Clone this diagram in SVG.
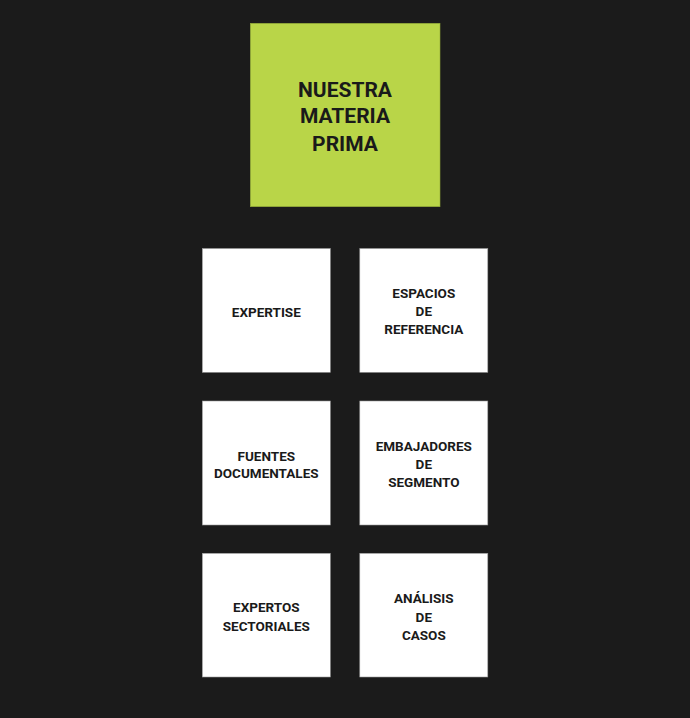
<svg xmlns="http://www.w3.org/2000/svg" width="690" height="718" viewBox="0 0 690 718">
<style>
.bg{fill:#1b1b1b}
.box{fill:#ffffff;stroke:#9a9a9a;stroke-width:0.6}
.main{fill:#b9d548;stroke:#8fa838;stroke-width:0.6}
text{font-family:"Roboto","Liberation Sans",sans-serif;font-weight:bold;fill:#1a1a1a;text-anchor:middle}
.t{font-size:13.5px}
.h{font-size:21px}
</style>
<rect class="bg" x="0" y="0" width="690" height="718"/>
<g id="main">
<rect class="main" x="250.3" y="23.3" width="189.7" height="183.4"/>
<text class="h" x="345" y="96.5">NUESTRA</text>
<text class="h" x="345" y="123">MATERIA</text>
<text class="h" x="345" y="150.5">PRIMA</text>
</g>
<g id="expertise">
<rect class="box" x="202.3" y="248.5" width="128" height="123.8"/>
<text class="t" x="266.3" y="317.3">EXPERTISE</text>
</g>
<g id="espacios">
<rect class="box" x="359.8" y="248.5" width="128" height="123.8"/>
<text class="t" x="423.8" y="298.3">ESPACIOS</text>
<text class="t" x="423.8" y="315.7">DE</text>
<text class="t" x="423.8" y="334.3">REFERENCIA</text>
</g>
<g id="fuentes">
<rect class="box" x="202.3" y="401" width="128" height="124"/>
<text class="t" x="266.3" y="460.7">FUENTES</text>
<text class="t" x="266.3" y="478.3">DOCUMENTALES</text>
</g>
<g id="embajadores">
<rect class="box" x="359.8" y="401" width="128" height="124"/>
<text class="t" x="423.8" y="451">EMBAJADORES</text>
<text class="t" x="423.8" y="469">DE</text>
<text class="t" x="423.8" y="486.7">SEGMENTO</text>
</g>
<g id="expertos">
<rect class="box" x="202.3" y="553.3" width="128" height="123.7"/>
<text class="t" x="266.3" y="611.7">EXPERTOS</text>
<text class="t" x="266.3" y="630.7">SECTORIALES</text>
</g>
<g id="analisis">
<rect class="box" x="359.8" y="553.3" width="128" height="123.7"/>
<text class="t" x="423.8" y="603">ANÁLISIS</text>
<text class="t" x="423.8" y="621.7">DE</text>
<text class="t" x="423.8" y="639.7">CASOS</text>
</g>
<g id="connectors"></g>
</svg>
